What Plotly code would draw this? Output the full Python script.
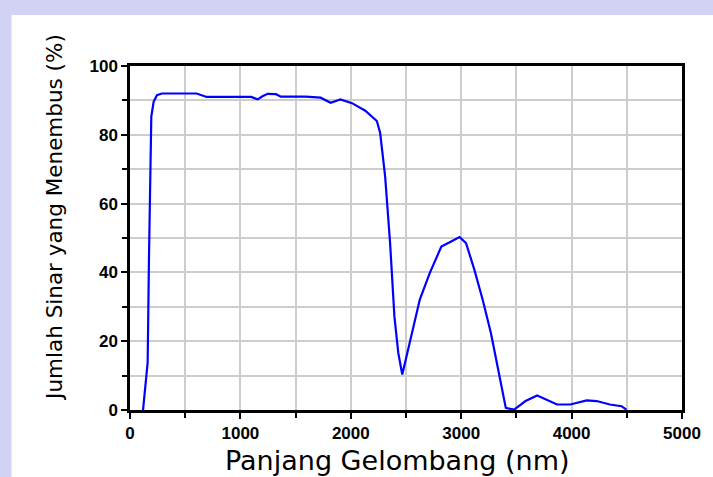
import plotly.graph_objects as go

# Data
wavelength_nm = [118, 139, 150, 160, 172, 184, 193, 214, 244, 289, 450, 604, 694, 900,
                 1098, 1157, 1200, 1247, 1322, 1367, 1592, 1727, 1817, 1906, 2011, 2131,
                 2236, 2266, 2311, 2356, 2395, 2430, 2466, 2505, 2565, 2625, 2715, 2820,
                 2909, 2985, 3044, 3119, 3194, 3269, 3329, 3404, 3479, 3583, 3688, 3778,
                 3868, 3988, 4137, 4227, 4347, 4452, 4497]
transmit_pct = [0, 6.9, 9, 13.8, 44.6, 77.6, 85.3, 89.6, 91.5, 92.0, 92.1, 92.0, 91.0, 91.0,
                91.0, 90.3, 91.2, 91.9, 91.8, 91.1, 91.1, 90.8, 89.3, 90.3, 89.2, 87.0,
                84.0, 80.5, 67.9, 48.5, 27.2, 16.6, 10.3, 15.6, 24.3, 32.1, 39.8, 47.5,
                49.0, 50.3, 48.5, 40.8, 32.1, 22.4, 12.7, 0.6, 0.1, 2.6, 4.2, 3.0,
                1.6, 1.6, 2.8, 2.6, 1.6, 1.1, 0.1]

x_title = "Panjang Gelombang (nm)"
y_title = "Jumlah Sinar yang Menembus (%)"

W, H = 713, 477
ml, mr, mt, mb = 129.5, 27, 66, 66.5
pw = W - ml - mr
ph = H - mt - mb

def px_x(p):
    return (p - ml) / pw

def px_y(p):
    return (H - mb - p) / ph

fig = go.Figure()
fig.add_trace(go.Scatter(x=wavelength_nm, y=transmit_pct, mode="lines",
                         line=dict(color="#0000ff", width=2.2), showlegend=False))

tickfont = dict(family="Liberation Sans, Arial, sans-serif", size=17, color="black", weight="bold")

fig.update_xaxes(range=[0, 5000], dtick=1000, tick0=0, showgrid=True, gridcolor="#cdcdcd",
                 gridwidth=2, showline=True, linecolor="black", linewidth=2.5, mirror=True,
                 ticks="outside", ticklen=6, tickwidth=2, tickcolor="black",
                 tickfont=tickfont, zeroline=False,
                 minor=dict(dtick=500, showgrid=True, gridcolor="#cdcdcd", gridwidth=2,
                            ticks="outside", ticklen=5, tickwidth=2, tickcolor="black"))
fig.update_yaxes(range=[0, 100], dtick=20, tick0=0, showgrid=True, gridcolor="#cdcdcd",
                 gridwidth=2, showline=True, linecolor="black", linewidth=2.5, mirror=True,
                 ticks="outside", ticklen=6, tickwidth=2, tickcolor="black",
                 tickfont=tickfont, zeroline=False,
                 minor=dict(dtick=10, showgrid=True, gridcolor="#cdcdcd", gridwidth=2,
                            ticks="outside", ticklen=5, tickwidth=2, tickcolor="black"))

shapes = [
    dict(type="rect", xref="paper", yref="paper", layer="below",
         x0=px_x(10), x1=px_x(W + 5), y0=px_y(H + 5), y1=px_y(15),
         fillcolor="white", line=dict(width=0)),
]

annotations = [
    dict(text=x_title, xref="paper", yref="paper", x=px_x(399), y=px_y(461),
         showarrow=False, xanchor="center", yanchor="middle",
         font=dict(family="DejaVu Sans, sans-serif", size=27, color="black")),
    dict(text=y_title, xref="paper", yref="paper", x=px_x(54), y=px_y(218),
         showarrow=False, xanchor="center", yanchor="middle", textangle=-90,
         font=dict(family="DejaVu Sans, sans-serif", size=21.5, color="black")),
]

fig.update_layout(width=W, height=H, margin=dict(l=ml, r=mr, t=mt, b=mb),
                  paper_bgcolor="#d2d3f4", plot_bgcolor="white",
                  shapes=shapes, annotations=annotations)

fig.write_html("out.html", config={"displayModeBar": False},
               post_script="document.body.style.margin='0';document.body.style.padding='0';"
                           "document.body.style.overflow='hidden';")
